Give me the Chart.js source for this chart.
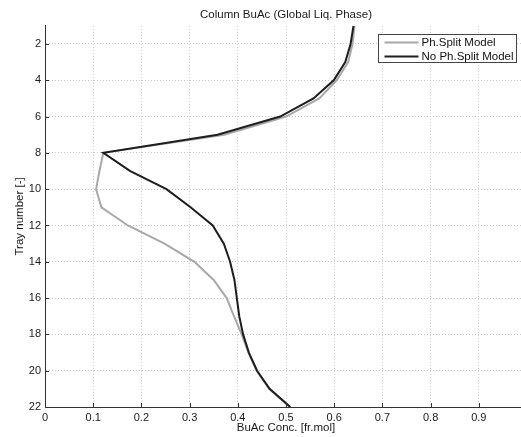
<!DOCTYPE html>
<html>
<head>
<meta charset="utf-8">
<script src="https://cdn.jsdelivr.net/npm/chart.js@4/dist/chart.umd.min.js"></script>
<style>
  html, body { margin: 0; padding: 0; background: #fff; overflow: hidden; }
</style>
</head>
<body>
<canvas id="grafica" width="527" height="437"></canvas>
<script>
// tray numbers (y) and BuAc concentration in liquid (x)
var trays = [1,2,3,4,5,6,7,8,9,10,11,12,13,14,15,16,17,18,19,20,21,22];
var phSplit   = [0.642,0.638,0.629,0.605,0.569,0.500,0.372,0.121,0.113,0.106,0.117,0.172,0.248,0.310,0.350,0.377,0.392,0.408,0.422,0.439,0.465,0.508];
var noPhSplit = [0.640,0.634,0.623,0.599,0.557,0.488,0.358,0.121,0.177,0.252,0.302,0.348,0.371,0.384,0.393,0.398,0.403,0.411,0.423,0.440,0.466,0.509];
var xTicks = [0,0.1,0.2,0.3,0.4,0.5,0.6,0.7,0.8,0.9];
var yTicks = [2,4,6,8,10,12,14,16,18,20,22];

var fuente = "'Liberation Sans', Arial, sans-serif";
Chart.defaults.font.family = fuente;
Chart.defaults.color = '#1a1a1a';

function puntos(valores){
  return valores.map(function(v,i){ return {x: v, y: trays[i]}; });
}

// inward tick marks + legend box, like the original matlab figure
var extras = {
  id: 'extras',
  afterDraw: function(chart){
    var ctx = chart.ctx, a = chart.chartArea;
    var sx = chart.scales.x, sy = chart.scales.y;
    ctx.save();
    ctx.strokeStyle = '#333';
    ctx.lineWidth = 1;
    ctx.beginPath();
    xTicks.forEach(function(t){
      var px = Math.round(sx.getPixelForValue(t)) + 0.5;
      ctx.moveTo(px, a.bottom); ctx.lineTo(px, a.bottom - 4);
    });
    yTicks.forEach(function(t){
      var py = Math.round(sy.getPixelForValue(t)) + 0.5;
      ctx.moveTo(a.left, py); ctx.lineTo(a.left + 4, py);
    });
    ctx.stroke();

    // legend
    var bx = 378.5, by = 34.5, bw = 138, bh = 28;
    ctx.fillStyle = '#fff';
    ctx.fillRect(bx, by, bw, bh);
    ctx.strokeStyle = '#444';
    ctx.strokeRect(bx, by, bw, bh);
    ctx.font = '11.5px ' + fuente;
    ctx.textBaseline = 'middle';
    chart.data.datasets.forEach(function(ds, i){
      var ly = by + 8 + i * 14;
      ctx.strokeStyle = ds.borderColor;
      ctx.lineWidth = 2;
      ctx.beginPath();
      ctx.moveTo(bx + 6, ly); ctx.lineTo(bx + 40, ly);
      ctx.stroke();
      ctx.fillStyle = '#111';
      ctx.fillText(ds.label, bx + 43, ly);
    });
    ctx.restore();
  }
};

var grafica = new Chart(document.getElementById('grafica'), {
  type: 'line',
  data: {
    datasets: [{
      label: 'Ph.Split Model',
      data: puntos(phSplit),
      borderColor: '#a8a8a8',
      borderWidth: 2,
      pointRadius: 0,
      tension: 0,
      order: 1
    },{
      label: 'No Ph.Split Model',
      data: puntos(noPhSplit),
      borderColor: '#1e1e1e',
      borderWidth: 2,
      pointRadius: 0,
      tension: 0,
      order: 0
    }]
  },
  options: {
    responsive: false,
    animation: false,
    layout: { padding: 0 },
    plugins: {
      legend: { display: false },
      tooltip: { enabled: false },
      title: {
        display: true,
        text: 'Column BuAc (Global Liq. Phase)',
        fullSize: false,
        font: { size: 11.5, weight: 'normal', lineHeight: 1.2 },
        color: '#1a1a1a',
        padding: { top: 8, bottom: 4 }
      }
    },
    scales: {
      x: {
        type: 'linear',
        min: 0, max: 1,
        afterBuildTicks: function(s){ s.ticks = xTicks.map(function(v){ return {value: v}; }); },
        afterFit: function(s){ s.height = 30; },
        ticks: { font: { size: 11 }, padding: 4, maxRotation: 0,
                 callback: function(v){ return v === 0 ? '0' : v.toFixed(1); } },
        grid: { color: '#c9c9c9', lineWidth: 1, drawTicks: false },
        border: { display: true, color: '#333', width: 1, dash: [1, 2] },
        title: { display: true, text: 'BuAc Conc. [fr.mol]', font: { size: 11.5, lineHeight: 1.2 },
                 padding: { top: 0, bottom: 2 } }
      },
      y: {
        type: 'linear',
        reverse: true,
        min: 1, max: 22,
        afterBuildTicks: function(s){ s.ticks = yTicks.map(function(v){ return {value: v}; }); },
        afterFit: function(s){ s.width = 45; },
        ticks: { font: { size: 11 }, padding: 4 },
        grid: { color: '#c9c9c9', lineWidth: 1, drawTicks: false },
        border: { display: true, color: '#333', width: 1, dash: [1, 2] },
        title: { display: true, text: 'Tray number [-]', font: { size: 11.5, lineHeight: 1.2 },
                 padding: { top: 13, bottom: 0 } }
      }
    }
  },
  plugins: [extras]
});
</script>
</body>
</html>
